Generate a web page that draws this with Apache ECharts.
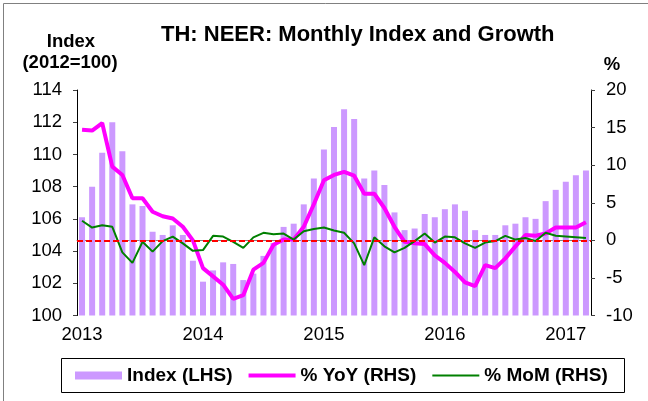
<!DOCTYPE html>
<html>
<head>
<meta charset="utf-8">
<script src="https://cdn.jsdelivr.net/npm/echarts@6/dist/echarts.min.js"></script>
<style>
html, body { margin: 0; padding: 0; background: #fff; }
#chart { width: 648px; height: 401px; }
</style>
</head>
<body>
<div id="chart"></div>
<script>
// monthly categories, Jan 2013 - Mar 2017
const months = [
  '2013-01', '2013-02', '2013-03', '2013-04', '2013-05', '2013-06', '2013-07', '2013-08', '2013-09', '2013-10', '2013-11', '2013-12',
  '2014-01', '2014-02', '2014-03', '2014-04', '2014-05', '2014-06', '2014-07', '2014-08', '2014-09', '2014-10', '2014-11', '2014-12',
  '2015-01', '2015-02', '2015-03', '2015-04', '2015-05', '2015-06', '2015-07', '2015-08', '2015-09', '2015-10', '2015-11', '2015-12',
  '2016-01', '2016-02', '2016-03', '2016-04', '2016-05', '2016-06', '2016-07', '2016-08', '2016-09', '2016-10', '2016-11', '2016-12',
  '2017-01', '2017-02', '2017-03'
]
// NEER index (2012=100), LHS
const indexVals = [
  106.1, 108.0, 110.1, 112.0, 110.2, 106.9, 106.8, 105.2, 105.0, 105.6, 105.0, 103.4,
  102.1, 102.8, 103.3, 103.2, 102.2, 102.6, 103.7, 104.5, 105.5, 105.7, 106.9, 108.5,
  110.3, 111.7, 112.8, 112.2, 108.5, 109.0, 108.1, 106.4, 105.3, 105.4, 106.3, 106.1,
  106.6, 106.9, 106.5, 105.3, 105.0, 105.0, 105.6, 105.7, 106.1, 106.0, 107.1, 107.8,
  108.3, 108.7, 109.0
]
// % YoY, RHS
const yoyVals = [
  14.7, 14.6, 15.6, 9.8, 8.7, 5.6, 5.6, 3.8, 3.2, 2.9, 1.8, 0.0,
  -3.7, -4.8, -5.9, -7.8, -7.3, -3.9, -3.0, -0.6, 0.1, 0.1, 1.8, 4.8,
  8.0, 8.7, 9.1, 8.6, 6.2, 6.2, 4.3, 1.8, -0.2, -0.4, -0.5, -2.0,
  -3.0, -4.2, -5.6, -6.1, -3.3, -3.7, -2.4, -0.8, 0.7, 0.6, 0.9, 1.7,
  1.7, 1.7, 2.4
]
// % MoM, RHS
const momVals = [
  2.6, 1.7, 2.0, 1.8, -1.6, -3.0, -0.2, -1.5, -0.1, 0.5, -0.4, -1.4,
  -1.3, 0.6, 0.5, -0.2, -1.0, 0.4, 1.0, 0.8, 0.9, 0.1, 1.2, 1.5,
  1.7, 1.3, 1.0, -0.4, -3.3, 0.4, -0.8, -1.6, -1.0, -0.1, 0.9, -0.3,
  0.5, 0.4, -0.4, -1.0, -0.3, -0.1, 0.6, 0.1, 0.3, -0.1, 1.0, 0.6,
  0.5, 0.4, 0.3
]

const font = "'Liberation Sans', Arial, sans-serif"

const chart = echarts.init(document.getElementById('chart'))
const option = {
  animation: false,
  textStyle: { fontFamily: font },
  title: {
    text: 'TH: NEER: Monthly Index and Growth',
    left: 161,
    top: 24,
    padding: 0,
    textStyle: { fontSize: 22, fontWeight: 'bold', color: '#000', fontFamily: font }
  },
  graphic: [
    // frame lines (top and left)
    { type: 'line', shape: { x1: 3.5, y1: 3.5, x2: 648, y2: 3.5 }, style: { stroke: '#808080', lineWidth: 1 } },
    { type: 'line', shape: { x1: 3.5, y1: 3.5, x2: 3.5, y2: 401 }, style: { stroke: '#808080', lineWidth: 1 } },
    // axis captions
    { type: 'text', x: 71, y: 42, style: { text: 'Index', font: 'bold 18.5px ' + font, fill: '#000', textAlign: 'center', textVerticalAlign: 'middle' } },
    { type: 'text', x: 70, y: 63, style: { text: '(2012=100)', font: 'bold 18.5px ' + font, fill: '#000', textAlign: 'center', textVerticalAlign: 'middle' } },
    { type: 'text', x: 612, y: 65, style: { text: '%', font: 'bold 18.5px ' + font, fill: '#000', textAlign: 'center', textVerticalAlign: 'middle' } },
    // legend box
    { type: 'rect', shape: { x: 61.5, y: 358.5, width: 563, height: 34 }, style: { fill: 'none', stroke: '#000', lineWidth: 1 } }
  ],
  legend: {
    data: [
      { name: 'Index (LHS)', icon: 'rect' },
      { name: '% YoY (RHS)', icon: 'path://M0,0H47V4H0Z' },
      { name: '% MoM (RHS)', icon: 'path://M0,0H47V2H0Z' }
    ],
    left: 75,
    top: 366,
    padding: 0,
    itemWidth: 47,
    itemHeight: 8,
    itemGap: 16,
    textStyle: { fontSize: 19, fontWeight: 'bold', color: '#000', fontFamily: font }
  },
  grid: {
    left: 77,
    right: 57,
    top: 90,
    bottom: 85.5
  },
  xAxis: {
    type: 'category',
    data: months,
    axisLine: { lineStyle: { color: '#808080', width: 1 } },
    axisTick: { interval: 11, length: 5, lineStyle: { color: '#404040' } },
    axisLabel: {
      interval: 11,
      margin: 10,
      fontSize: 18.5,
      color: '#000',
      fontFamily: font,
      formatter: v => v.slice(0, 4)
    },
    splitLine: { show: false }
  },
  yAxis: [{
    type: 'value',
    min: 100,
    max: 114,
    interval: 2,
    axisLine: { show: true, lineStyle: { color: '#000' } },
    axisTick: { show: true, length: 4, lineStyle: { color: '#404040' } },
    axisLabel: { margin: 15, fontSize: 18.5, color: '#000', fontFamily: font },
    splitLine: { show: false }
  }, {
    type: 'value',
    min: -10,
    max: 20,
    interval: 5,
    position: 'right',
    axisLine: { show: true, lineStyle: { color: '#000' } },
    axisTick: { show: true, length: 4, lineStyle: { color: '#404040' } },
    axisLabel: { margin: 15, fontSize: 18.5, color: '#000', fontFamily: font },
    splitLine: { show: false }
  }],
  series: [{
    name: 'Index (LHS)',
    type: 'bar',
    data: indexVals,
    barWidth: 6,
    itemStyle: { color: '#cc99ff' }
  }, {
    // zero line on the RHS
    name: 'zero',
    type: 'line',
    yAxisIndex: 1,
    data: [],
    silent: true,
    markLine: {
      silent: true,
      symbol: 'none',
      label: { show: false },
      lineStyle: { color: '#ff0000', width: 2, type: [6, 3] },
      data: [{ yAxis: 0 }]
    }
  }, {
    name: '% YoY (RHS)',
    type: 'line',
    yAxisIndex: 1,
    data: yoyVals,
    symbol: 'none',
    lineStyle: { color: '#ff00ff', width: 4 },
    itemStyle: { color: '#ff00ff' }
  }, {
    name: '% MoM (RHS)',
    type: 'line',
    yAxisIndex: 1,
    data: momVals,
    symbol: 'none',
    lineStyle: { color: '#008000', width: 2 },
    itemStyle: { color: '#008000' }
  }]
}
chart.setOption(option)
</script>
</body>
</html>
